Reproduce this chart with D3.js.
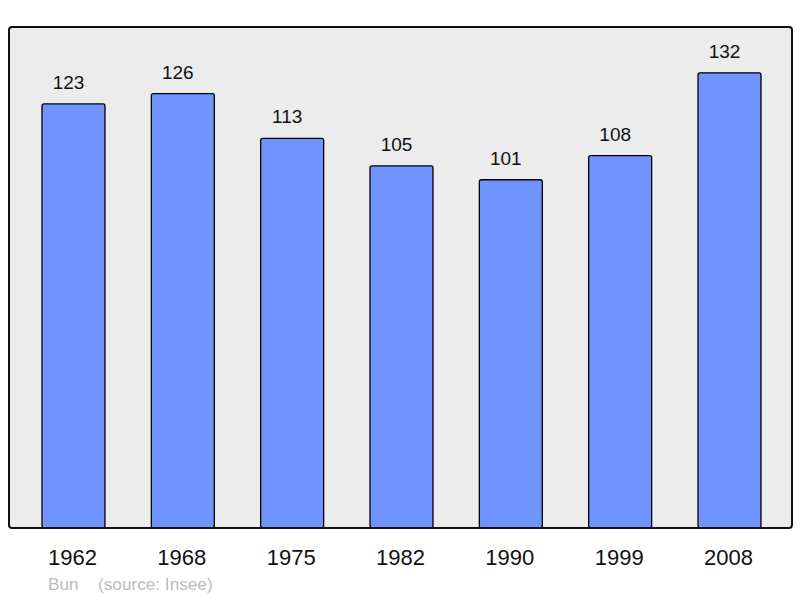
<!DOCTYPE html>
<html><head><meta charset="utf-8">
<script src="https://cdn.jsdelivr.net/npm/d3@7"></script>
<style>body{margin:0;background:#fff}svg{display:block}</style>
</head><body>
<svg id="c" width="800" height="598"></svg>
<script>
const years = ["1962","1968","1975","1982","1990","1999","2008"];
const population = [123,126,113,105,101,108,132];
const commune = "Bun";
const sourceText = "(source: Insee)";

const svg = d3.select("#c");
const panel = {x0: 9, y0: 27, x1: 792, y1: 528};
const font = "Liberation Sans, Arial, sans-serif";

svg.append("rect").attr("x", panel.x0).attr("y", panel.y0)
  .attr("width", panel.x1 - panel.x0).attr("height", panel.y1 - panel.y0)
  .attr("rx", 3).attr("fill", "#ececec");

const x = d3.scaleBand().domain(years).range([42, 761]).paddingInner(0.424).paddingOuter(0);
const y = d3.scaleLinear().domain([0, 145.3]).range([panel.y1, panel.y0]);

const g = svg.append("g");
g.selectAll("rect.bar").data(years).join("rect").attr("class","bar")
  .attr("x", d => x(d)).attr("y", (d,i) => y(population[i]))
  .attr("width", x.bandwidth()).attr("height", (d,i) => panel.y1 - y(population[i]))
  .attr("rx", 2).attr("fill", "#7094ff").attr("stroke", "#000").attr("stroke-width", 1.3);

g.selectAll("text.val").data(years).join("text").attr("class","val")
  .attr("x", d => x(d) + x.bandwidth()/2 - 5).attr("y", (d,i) => y(population[i]) - 15)
  .attr("text-anchor","middle").attr("font-family", font)
  .attr("font-size", 19).attr("fill","#111").text((d,i) => population[i]);

svg.append("rect").attr("x", panel.x0).attr("y", panel.y0)
  .attr("width", panel.x1 - panel.x0).attr("height", panel.y1 - panel.y0)
  .attr("rx", 3).attr("fill", "none").attr("stroke", "#111").attr("stroke-width", 2);

const axis = d3.axisBottom(x).tickSize(0).tickPadding(0);
const ax = svg.append("g").attr("transform", `translate(-1,${panel.y1})`).call(axis);
ax.select(".domain").remove();
ax.selectAll("text").attr("font-family", font)
  .attr("font-size", 22).attr("fill","#111").attr("dy", null).attr("y", 37);

svg.append("text").attr("x", 48).attr("y", 590).attr("font-family", font)
  .attr("font-size", 17.2).attr("fill","#bbb").text(commune);
svg.append("text").attr("x", 98).attr("y", 590).attr("font-family", font)
  .attr("font-size", 17.2).attr("fill","#bbb").text(sourceText);
</script>
</body></html>
